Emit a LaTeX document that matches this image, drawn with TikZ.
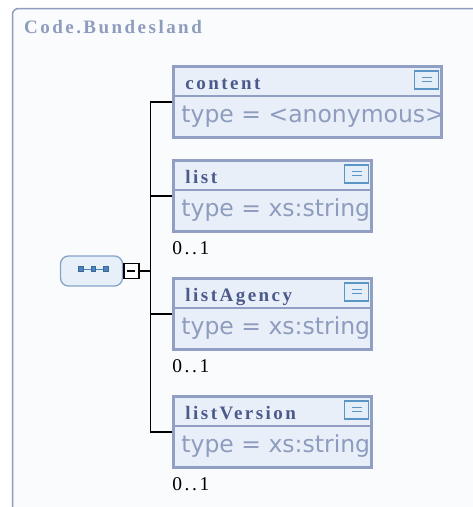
\documentclass[tikz,border=0pt]{standalone}
\usepackage{fontspec}
\setmainfont{Liberation Serif}
\newfontfamily\namefont{Liberation Serif}[LetterSpace=13]
\newfontfamily\typefont{DejaVu Sans}
\usepackage{tikz}
\usepackage{xcolor}
\usetikzlibrary{positioning}

\definecolor{framecol}{HTML}{8E9CBE}
\definecolor{bgcol}{HTML}{FAFBFC}
\definecolor{namecol}{HTML}{4B5A8A}
\definecolor{elemborder}{HTML}{909FC3}
\definecolor{elemfill}{HTML}{E9EFF9}
\definecolor{typecol}{HTML}{8E9CBE}
\definecolor{iconcol}{HTML}{5B95C6}
\definecolor{iconfill}{HTML}{E3EEF8}
\definecolor{compborder}{HTML}{86A4CB}
\definecolor{compfill}{HTML}{E7EFF8}
\definecolor{dotcol}{HTML}{4A83BD}

\begin{document}
\begin{tikzpicture}[
x=1pt, y=-1pt,
frame/.style={draw=framecol, line width=1.5pt, fill=bgcol, rounded corners=6pt},
elem/.style={draw=elemborder, line width=3.5pt, fill=elemfill, minimum width=198pt, minimum height=71pt, inner sep=0pt, anchor=north west},
sep/.style={draw=elemborder, line width=2pt},
docicon/.style={draw=iconcol, fill=iconfill, line width=1.4pt, minimum width=24pt, minimum height=18pt, inner sep=0pt, anchor=north east,
  path picture={\draw[iconcol, line width=1pt] ([xshift=-5pt,yshift=2pt]path picture bounding box.center) -- ([xshift=5pt,yshift=2pt]path picture bounding box.center);
  \draw[iconcol, line width=1pt] ([xshift=-5pt,yshift=-2pt]path picture bounding box.center) -- ([xshift=5pt,yshift=-2pt]path picture bounding box.center);}},
ename/.style={font=\namefont\bfseries\fontsize{19}{19}\selectfont, text=namecol, anchor=base west, inner sep=0pt},
etype/.style={font=\typefont\fontsize{23.5}{23.5}\selectfont, text=typecol, anchor=base west, inner sep=0pt},
occurs/.style={font=\namefont\fontsize{19.5}{19.5}\selectfont, anchor=base west, inner sep=0pt},
title/.style={font=\namefont\bfseries\fontsize{19}{19}\selectfont, text=framecol, anchor=base west, inner sep=0pt},
comp/.style={draw=compborder, fill=compfill, line width=1.3pt, rounded corners=8pt, minimum width=62pt, minimum height=30pt},
dot/.style={draw=dotcol!80!black, fill=dotcol, minimum size=4.5pt, inner sep=0pt, line width=0.6pt},
minusbox/.style={draw, fill=white, line width=1.5pt, minimum size=15pt, inner sep=0pt,
  path picture={\draw[line width=1.3pt] ([xshift=-4pt]path picture bounding box.center) -- ([xshift=4pt]path picture bounding box.center);}},
conn/.style={line width=1.5pt}
]
\useasboundingbox (0,0) rectangle (473,507);
\clip (0,0) rectangle (473,507);
\fill[white] (0,0) rectangle (473,507);

% outer frame
\draw[frame] (12.5,8.5) rectangle (490,520);
\node[title] (title) at (24,33) {Code.Bundesland};

% sequence
\node[comp] (seq) at (91.5,271) {};
\node[dot] (seq-d1) at (81,269) {};
\node[dot] (seq-d2) at (93.5,269) {};
\node[dot] (seq-d3) at (106,269) {};
\draw[dotcol, line width=0.8pt] (seq-d1) -- (seq-d2) -- (seq-d3);
\node[minusbox, right=0pt of seq] (minus) {};
\coordinate[right=11pt of minus] (bus);

% content
\node[elem, minimum width=268pt] (content) at (171.75,64.75) {};
\draw[sep] ([yshift=-31.5pt]content.north west) -- ([yshift=-31.5pt]content.north east);
\node[docicon] (content-doc) at ([xshift=-4pt,yshift=-5.5pt]content.north east) {};
\node[ename] (content-name) at ([xshift=13.5pt,yshift=-24.5pt]content.north west) {content};
\node[etype] (content-type) at ([xshift=9.5pt,yshift=-57.5pt]content.north west) {type = <anonymous>};

% list
\node[elem] (list) at (171.75,158.75) {};
\draw[sep] ([yshift=-31.5pt]list.north west) -- ([yshift=-31.5pt]list.north east);
\node[docicon] (list-doc) at ([xshift=-4pt,yshift=-5.5pt]list.north east) {};
\node[ename] (list-name) at ([xshift=13.5pt,yshift=-24.5pt]list.north west) {list};
\node[etype] (list-type) at ([xshift=9.5pt,yshift=-57.5pt]list.north west) {type = xs:string};
\node[occurs] (list-occ) at ([xshift=0.5pt,yshift=-21.5pt]list.south west) {0..1};

% listAgency
\node[elem] (listAgency) at (171.75,276.75) {};
\draw[sep] ([yshift=-31.5pt]listAgency.north west) -- ([yshift=-31.5pt]listAgency.north east);
\node[docicon] (listAgency-doc) at ([xshift=-4pt,yshift=-5.5pt]listAgency.north east) {};
\node[ename] (listAgency-name) at ([xshift=13.5pt,yshift=-24.5pt]listAgency.north west) {listAgency};
\node[etype] (listAgency-type) at ([xshift=9.5pt,yshift=-57.5pt]listAgency.north west) {type = xs:string};
\node[occurs] (listAgency-occ) at ([xshift=0.5pt,yshift=-21.5pt]listAgency.south west) {0..1};

% listVersion
\node[elem] (listVersion) at (171.75,394.75) {};
\draw[sep] ([yshift=-31.5pt]listVersion.north west) -- ([yshift=-31.5pt]listVersion.north east);
\node[docicon] (listVersion-doc) at ([xshift=-4pt,yshift=-5.5pt]listVersion.north east) {};
\node[ename] (listVersion-name) at ([xshift=13.5pt,yshift=-24.5pt]listVersion.north west) {listVersion};
\node[etype] (listVersion-type) at ([xshift=9.5pt,yshift=-57.5pt]listVersion.north west) {type = xs:string};
\node[occurs] (listVersion-occ) at ([xshift=0.5pt,yshift=-21.5pt]listVersion.south west) {0..1};

% connectors
\draw[conn] (minus.east) -- (bus);
\draw[conn] (content.west) -| (bus) |- (listVersion.west);
\draw[conn] (bus) |- (list.west);
\draw[conn] (bus) |- (listAgency.west);
\end{tikzpicture}
\end{document}
